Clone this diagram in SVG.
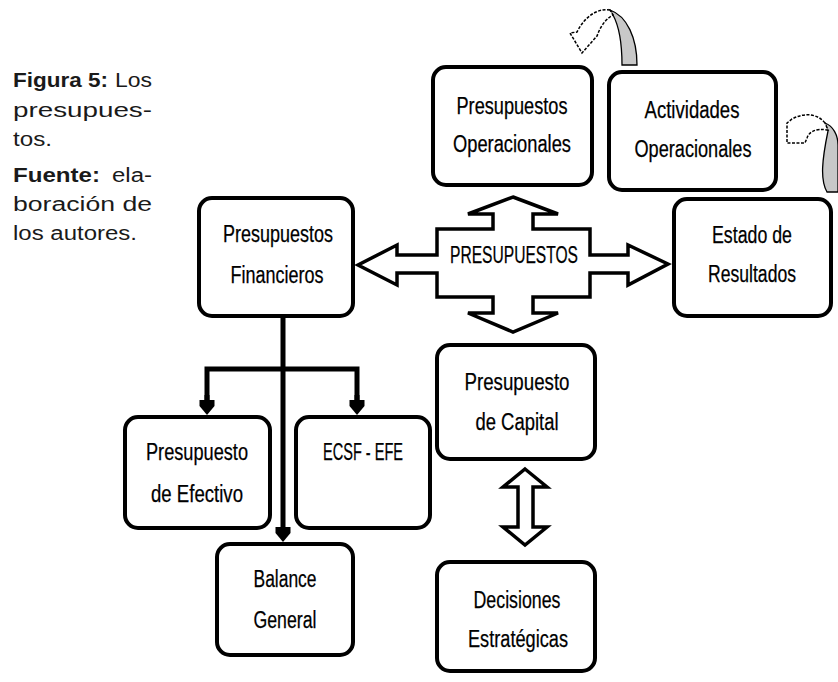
<svg xmlns="http://www.w3.org/2000/svg" width="838" height="682" viewBox="0 0 838 682">
  <defs>
    <style>
      .box { fill: #fff; stroke: #000; stroke-width: 4; }
      .lbl { font-family: "Liberation Sans Narrow", "Liberation Sans", Arial, sans-serif; font-size: 23.5px; fill: #000; stroke: #000; stroke-width: 0.25; text-anchor: middle; }
      .cap { font-family: "Liberation Sans", Arial, sans-serif; font-size: 20px; fill: #1a1a1a; }
      .capb { font-weight: bold; }
      .wire { fill: none; stroke: #000; stroke-width: 5; }
      .fat { fill: #fff; stroke: #000; stroke-width: 3.5; stroke-linejoin: miter; }
      .loopback { fill: #c8c8c8; stroke: #000; stroke-width: 1.3; }
      .loopfront { fill: #fff; stroke: #000; stroke-width: 1.5; stroke-dasharray: 3 1.5; }
    </style>
    <marker id="head" markerUnits="userSpaceOnUse" markerWidth="16" markerHeight="16" refX="4" refY="7.5" orient="auto">
      <path d="M0,0 L6,0 L15,7.5 L6,15 L0,15 Z" fill="#000"/>
    </marker>
  </defs>

  <!-- caption -->
  <g id="caption">
    <text class="cap capb" x="13" y="87" textLength="95" lengthAdjust="spacingAndGlyphs">Figura 5:</text>
    <text class="cap" x="115" y="87" textLength="37" lengthAdjust="spacingAndGlyphs">Los</text>
    <text class="cap" x="13" y="117" textLength="139" lengthAdjust="spacingAndGlyphs">presupues-</text>
    <text class="cap" x="13" y="146" textLength="39" lengthAdjust="spacingAndGlyphs">tos.</text>
    <text class="cap capb" x="13" y="182" textLength="87" lengthAdjust="spacingAndGlyphs">Fuente:</text>
    <text class="cap" x="112" y="182" textLength="40" lengthAdjust="spacingAndGlyphs">ela-</text>
    <text class="cap" x="13" y="211" textLength="139" lengthAdjust="spacingAndGlyphs">boración de</text>
    <text class="cap" x="13" y="240" textLength="124" lengthAdjust="spacingAndGlyphs">los autores.</text>
  </g>

  <!-- connectors -->
  <g id="connectors">
    <!-- central cross-shaped block arrow -->
    <path class="fat" d="M513,197 L558,214 L533,214 L533,229 L590,229 L590,255 L628,255 L628,245 L668,264 L628,285 L628,273 L590,273 L590,297 L533,297 L533,313 L558,313 L513,332 L468,313 L493,313 L493,297 L437,297 L437,273 L397,273 L397,285 L358,265 L397,245 L397,255 L437,255 L437,229 L493,229 L493,214 L468,214 Z"/>
    <!-- double arrow between capital and strategic decisions -->
    <path class="fat" d="M525,469 L547,487 L533,487 L533,527 L547,527 L525,545 L503,527 L518,527 L518,487 L503,487 Z"/>
    <!-- financial budgets split -->
    <line class="wire" x1="283" y1="318" x2="283" y2="531" marker-end="url(#head)"/>
    <polyline class="wire" points="207,404 207,369 357,369 357,404" stroke-linejoin="miter"/>
    <line class="wire" x1="207" y1="395" x2="207" y2="404" marker-end="url(#head)"/>
    <line class="wire" x1="357" y1="395" x2="357" y2="404" marker-end="url(#head)"/>
    <!-- curved loop arrows -->
    <path class="loopback" d="M610,10 C627,16 637,38 637,65 L622,65 C622,46 620,28 613,15 Z"/>
    <path class="loopfront" d="M610,10 C598,8 585,16 577,32 L570,33 L582,53 L597,36 C600,28 604,20 613,15 Z"/>
    <path class="loopback" d="M825,123 C833,126 838,135 838,145 L838,192 L827,192 C820,180 822,160 828,131 Z"/>
    <path class="loopfront" d="M825,123 C818,114 805,112 792,119 L787,123 L787,143 L805,143 L807,138 C809,132 815,128 828,130 Z"/>
  </g>

  <!-- label on the central block arrow -->
  <text class="lbl" x="514" y="263" textLength="128" lengthAdjust="spacingAndGlyphs">PRESUPUESTOS</text>

  <g id="presupuestos-operacionales">
    <rect class="box" x="433" y="67" width="159" height="118" rx="13"/>
    <text class="lbl" x="512" y="114" textLength="111" lengthAdjust="spacingAndGlyphs">Presupuestos</text>
    <text class="lbl" x="512" y="152" textLength="118" lengthAdjust="spacingAndGlyphs">Operacionales</text>
  </g>

  <g id="actividades-operacionales">
    <rect class="box" x="609" y="72" width="167" height="118" rx="13"/>
    <text class="lbl" x="692" y="118" textLength="95" lengthAdjust="spacingAndGlyphs">Actividades</text>
    <text class="lbl" x="693" y="157" textLength="117" lengthAdjust="spacingAndGlyphs">Operacionales</text>
  </g>

  <g id="estado-resultados">
    <rect class="box" x="674" y="199" width="157" height="117" rx="13"/>
    <text class="lbl" x="752" y="243" textLength="80" lengthAdjust="spacingAndGlyphs">Estado de</text>
    <text class="lbl" x="752" y="282" textLength="88" lengthAdjust="spacingAndGlyphs">Resultados</text>
  </g>

  <g id="presupuestos-financieros">
    <rect class="box" x="199" y="198" width="154" height="118" rx="13"/>
    <text class="lbl" x="278" y="242" textLength="110" lengthAdjust="spacingAndGlyphs">Presupuestos</text>
    <text class="lbl" x="277" y="283" textLength="93" lengthAdjust="spacingAndGlyphs">Financieros</text>
  </g>

  <g id="presupuesto-efectivo">
    <rect class="box" x="125" y="417" width="145" height="111" rx="13"/>
    <text class="lbl" x="197" y="460" textLength="102" lengthAdjust="spacingAndGlyphs">Presupuesto</text>
    <text class="lbl" x="197" y="502" textLength="92" lengthAdjust="spacingAndGlyphs">de Efectivo</text>
  </g>

  <g id="ecsf-efe">
    <rect class="box" x="296" y="417" width="134" height="111" rx="13"/>
    <text class="lbl" x="363" y="460" textLength="80" lengthAdjust="spacingAndGlyphs">ECSF - EFE</text>
  </g>

  <g id="balance-general">
    <rect class="box" x="217" y="544" width="136" height="111" rx="13"/>
    <text class="lbl" x="285" y="587" textLength="63" lengthAdjust="spacingAndGlyphs">Balance</text>
    <text class="lbl" x="285" y="628" textLength="63" lengthAdjust="spacingAndGlyphs">General</text>
  </g>

  <g id="presupuesto-capital">
    <rect class="box" x="437" y="345" width="158" height="114" rx="13"/>
    <text class="lbl" x="517" y="390" textLength="105" lengthAdjust="spacingAndGlyphs">Presupuesto</text>
    <text class="lbl" x="517" y="430" textLength="83" lengthAdjust="spacingAndGlyphs">de Capital</text>
  </g>

  <g id="decisiones-estrategicas">
    <rect class="box" x="437" y="562" width="158" height="109" rx="13"/>
    <text class="lbl" x="517" y="608" textLength="87" lengthAdjust="spacingAndGlyphs">Decisiones</text>
    <text class="lbl" x="518" y="647" textLength="100" lengthAdjust="spacingAndGlyphs">Estratégicas</text>
  </g>
</svg>
